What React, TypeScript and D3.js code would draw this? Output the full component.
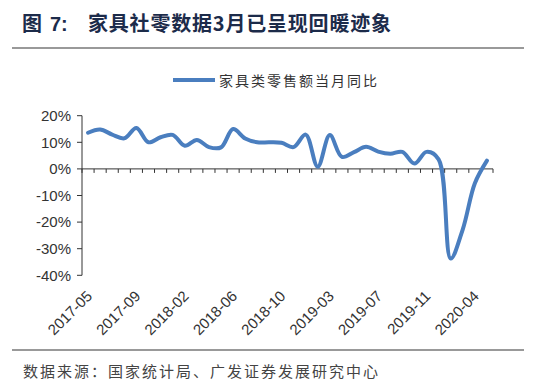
import React from "react";
import * as d3 from "d3";

const categories = [
  "2017-05","2017-06","2017-07","2017-08","2017-09","2017-10","2017-11","2017-12",
  "2018-02","2018-03","2018-04","2018-05","2018-06","2018-07","2018-08","2018-09","2018-10","2018-11","2018-12",
  "2019-02","2019-03","2019-04","2019-05","2019-06","2019-07","2019-08","2019-09","2019-10","2019-11","2019-12",
  "2020-02","2020-03","2020-04","2020-05",
];
const values = [
  13.6, 14.8, 12.9, 11.5, 15.4, 10.0, 11.9, 12.8,
  8.7, 10.9, 8.2, 8.1, 15.0, 11.4, 10.0, 10.0, 9.8, 8.2, 12.9,
  0.8, 12.7, 4.5, 6.3, 8.3, 6.5, 5.7, 6.4, 2.0, 6.4, 3.6,
  -33.7, -22.7, -5.4, 3.1,
];
const yTicks = [20, 10, 0, -10, -20, -30, -40];
const labelEvery = 4;
const seriesName = "家具类零售额当月同比";
const title = "家具社零数据3月已呈现回暖迹象";
const figNo = "7:";
const source = "数据来源：国家统计局、广发证券发展研究中心";

const BLUE = "#4a7ebf";
const AXIS = "#333";
const LATIN = "'Liberation Sans', Arial, sans-serif";
const CJK = "'Noto Sans CJK SC', sans-serif";

export default function App() {
  const x = d3.scaleBand<string>().domain(categories).range([82, 493]);
  const y = d3.scaleLinear().domain([-40, 20]).range([275.3, 115.7]);
  const cx = (c: string) => (x(c) as number) + x.bandwidth() / 2;
  const line = d3
    .line<number>()
    .x((_, i) => cx(categories[i]))
    .y((d) => y(d))
    .curve(d3.curveCatmullRom.alpha(0.5));
  const boundaries = d3.range(categories.length + 1).map((i) => 82 + i * x.step());

  return (
    <svg
      width={550}
      height={388}
      style={{ position: "absolute", left: 0, top: 0, background: "#fff" }}
    >
      {/* title */}
      <text x={22} y={31} fontFamily={CJK} fontWeight={700} fontSize={20} fill="#1c2b4a">图</text>
      <text x={50} y={31} fontFamily={LATIN} fontWeight={700} fontSize={20} fill="#1c2b4a">{figNo}</text>
      <text x={88} y={31} fontFamily={CJK} fontWeight={700} fontSize={20} letterSpacing={0.8} fill="#1c2b4a">{title}</text>
      <line x1={12} x2={524} y1={48} y2={48} stroke="#777" strokeWidth={1.5} />

      {/* legend */}
      <line x1={173} x2={215} y1={80} y2={80} stroke={BLUE} strokeWidth={4} />
      <text x={219} y={86} fontFamily={CJK} fontSize={14} letterSpacing={2} fill="#333">{seriesName}</text>

      {/* y axis */}
      <line x1={82} x2={82} y1={y(20)} y2={y(-40)} stroke={AXIS} strokeWidth={1} />
      {yTicks.map((t) => (
        <g key={t}>
          <line x1={77} x2={82} y1={y(t)} y2={y(t)} stroke={AXIS} strokeWidth={1} />
          <text x={71} y={y(t)} dy="0.35em" textAnchor="end" fontFamily={LATIN} fontSize={15} fill="#333">
            {t}%
          </text>
        </g>
      ))}

      {/* x axis at zero */}
      <line x1={82} x2={493} y1={y(0)} y2={y(0)} stroke={AXIS} strokeWidth={1} />
      {boundaries.map((b, i) => (
        <line key={i} x1={b} x2={b} y1={y(0)} y2={y(0) + 4} stroke={AXIS} strokeWidth={1} />
      ))}
      {categories.map((c, i) =>
        i % labelEvery === 0 ? (
          <text
            key={c}
            transform={`translate(${cx(c) + 5},${297}) rotate(-45)`}
            textAnchor="end"
            fontFamily={LATIN}
            fontSize={15}
            fill="#333"
          >
            {c}
          </text>
        ) : null
      )}

      {/* series */}
      <path d={line(values) as string} fill="none" stroke={BLUE} strokeWidth={4} strokeLinejoin="round" strokeLinecap="round" />

      {/* footer */}
      <line x1={12} x2={524} y1={350} y2={350} stroke="#777" strokeWidth={1.5} />
      <text x={23} y={377} fontFamily={CJK} fontSize={15} letterSpacing={2} fill="#444">{source}</text>
    </svg>
  );
}
